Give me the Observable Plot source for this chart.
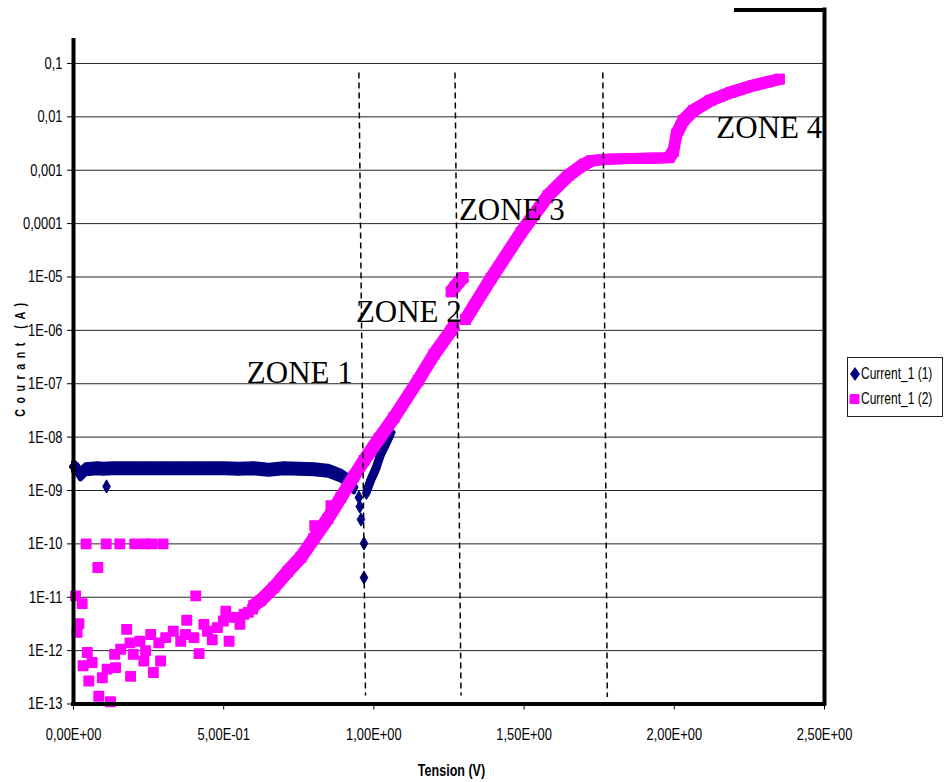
<!DOCTYPE html>
<html>
<head>
<meta charset="utf-8">
<script src="https://cdn.jsdelivr.net/npm/d3@7"></script>
<script src="https://cdn.jsdelivr.net/npm/@observablehq/plot@0.6"></script>
<style>
  html, body { margin: 0; padding: 0; background: #fff; }
  #wrap { position: relative; width: 944px; height: 782px; overflow: hidden; }
  #wrap svg { display: block; }
  #legend { position: absolute; left: 847px; top: 357px; width: 96px; height: 60px;
    border: 1px solid #222; background: #fff; box-sizing: border-box;
    font-family: "Liberation Sans", Arial, sans-serif; font-size: 16px; color: #000; }
  #legend .row { position: absolute; left: 0; height: 18px; display: flex; align-items: center; white-space: nowrap; }
  #legend .row span { display: inline-block; transform: scaleX(0.75); transform-origin: 0 50%; }
  #legend svg { display: inline-block; }
</style>
</head>
<body>
<div id="wrap">
  <div id="chart"></div>
  <div id="legend"></div>
</div>
<script>
// ---- Axis ticks ----
const xTickValues = [0, 0.5, 1.0, 1.5, 2.0, 2.5];
const xTickLabels = ["0,00E+00", "5,00E-01", "1,00E+00", "1,50E+00", "2,00E+00", "2,50E+00"];
const yTickValues = [1e-13, 1e-12, 1e-11, 1e-10, 1e-9, 1e-8, 1e-7, 1e-6, 1e-5, 1e-4, 1e-3, 1e-2, 1e-1];
const yTickLabels = ["1E-13", "1E-12", "1E-11", "1E-10", "1E-09", "1E-08", "1E-07", "1E-06", "1E-05", "0,0001", "0,001", "0,01", "0,1"];
const gridValues = [1e-12, 1e-11, 1e-10, 1e-9, 1e-8, 1e-7, 1e-6, 1e-5, 1e-4, 1e-3, 1e-2, 1e-1];

// ---- Series names ----
const seriesNames = ["Current_1 (1)", "Current_1 (2)"];
const seriesColors = ["#000080", "#FF00FF"];

// ---- Current_1 (1) (navy diamonds) ----
const blueBandV = [0, 0.012, 0.023, 0.04, 0.06, 0.08, 0.1, 0.13, 0.16, 0.2, 0.25, 0.3, 0.35, 0.4, 0.45, 0.5, 0.55, 0.6, 0.65, 0.7, 0.75, 0.8, 0.847, 0.89, 0.913, 0.933];
const blueBandI = [2.8e-9, 2.5e-9, 2.0e-9, 2.5e-9, 2.55e-9, 2.6e-9, 2.55e-9, 2.6e-9, 2.6e-9, 2.6e-9, 2.6e-9, 2.6e-9, 2.6e-9, 2.6e-9, 2.6e-9, 2.6e-9, 2.55e-9, 2.6e-9, 2.45e-9, 2.6e-9, 2.55e-9, 2.5e-9, 2.35e-9, 1.9e-9, 1.55e-9, 1.15e-9];
const blueRiseV = [0.977, 0.99, 1.007, 1.023, 1.04, 1.057];
const blueRiseI = [1.0e-9, 1.6e-9, 2.6e-9, 4.9e-9, 7.6e-9, 1.22e-8];
const blueScatterV = [0.11, 0.95, 0.953, 0.957, 0.967, 0.967, 0.975];
const blueScatterI = [1.19e-9, 7.4e-10, 5.0e-10, 2.86e-10, 1.02e-10, 2.34e-11, 9.0e-10];

// ---- Current_1 (2) (magenta squares) ----
const pinkScatterV = [0.042, 0.109, 0.154, 0.204, 0.238, 0.262, 0.298, 0.081, 0.007, 0.029, 0.018, 0.012, 0.046, 0.032, 0.062, 0.051, 0.084, 0.123, 0.096, 0.112, 0.14, 0.137, 0.157, 0.177, 0.19, 0.188, 0.199, 0.221, 0.234, 0.24, 0.257, 0.266, 0.284, 0.29, 0.307, 0.332, 0.357, 0.377, 0.373, 0.401, 0.407, 0.418, 0.434, 0.446, 0.462, 0.479, 0.499, 0.507, 0.518, 0.534, 0.554, 0.568, 0.582, 0.596, 0.803, 0.857];
const pinkScatterI = [1e-10, 1e-10, 1e-10, 1e-10, 1e-10, 1e-10, 1e-10, 3.6e-11, 1.06e-11, 7.6e-12, 3.2e-12, 2.2e-12, 9.2e-13, 5.2e-13, 6e-13, 2.7e-13, 1.4e-13, 1.1e-13, 3.1e-13, 4.5e-13, 4.8e-13, 8.5e-13, 1.06e-12, 2.5e-12, 3.3e-13, 1.4e-12, 8.5e-13, 1.5e-12, 6.4e-13, 1e-12, 2e-12, 3.9e-13, 1.4e-12, 6.4e-13, 1.75e-12, 2.3e-12, 1.5e-12, 3.7e-12, 2e-12, 1.75e-12, 1.06e-11, 8.8e-13, 3.1e-12, 2.3e-12, 1.6e-12, 2.7e-12, 3.6e-12, 5.5e-12, 1.5e-12, 4.2e-12, 3.1e-12, 4.8e-12, 5.2e-12, 6e-12, 2.2e-10, 5.2e-10];
const pinkBand1V = [0.6, 0.623, 0.667, 0.713, 0.757, 0.8, 0.847, 0.89, 0.933, 0.967, 1.017, 1.067, 1.147, 1.2, 1.257, 1.267];
const pinkBand1I = [7e-12, 8.7e-12, 1.52e-11, 3.03e-11, 5.6e-11, 1.26e-10, 2.99e-10, 7.4e-10, 1.83e-9, 3.65e-9, 9.4e-9, 2.33e-8, 1.15e-7, 3.53e-7, 9.95e-7, 1.23e-6];
const pinkBand2V = [1.257, 1.27, 1.283, 1.297];
const pinkBand2I = [5.3e-6, 6.6e-6, 8.1e-6, 9.8e-6];
const pinkBand3V = [1.305, 1.39, 1.49, 1.58, 1.647, 1.7, 1.723, 1.773, 1.85, 1.92, 1.983, 1.997, 2.007, 2.03, 2.063, 2.12, 2.187, 2.263, 2.35];
const pinkBand3I = [1.6e-6, 9.4e-6, 6.8e-5, 3.37e-4, 7.98e-4, 1.3e-3, 1.5e-3, 1.6e-3, 1.65e-3, 1.68e-3, 1.72e-3, 2.24e-3, 4.68e-3, 8.55e-3, 1.31e-2, 2.03e-2, 2.86e-2, 3.87e-2, 5.1e-2];

// ---- Annotations ----
const zoneNames = ["ZONE 1", "ZONE 2", "ZONE 3", "ZONE 4"];
const zoneV = [0.577, 0.94, 1.283, 2.14];
const zoneI = [1.05e-7, 1.41e-6, 1.15e-4, 3.94e-3];
const dashV1 = [0.95, 1.27, 1.762];
const dashV2 = [0.972, 1.29, 1.777];
const dashTopI = [0.0678, 0.0678, 0.0678];
const dashBottomI = [1.44e-13, 1.44e-13, 1.35e-13];

// ---- build tables ----
const toRows = (V, I, seg) => V.map((v, i) => ({v, i: I[i], seg}));
const blueLines = toRows(blueBandV, blueBandI, "a").concat(toRows(blueRiseV, blueRiseI, "b"));
const blueDots = blueLines.concat(toRows(blueScatterV, blueScatterI, "s"));
const pinkLines = toRows(pinkBand1V, pinkBand1I, "1")
  .concat(toRows(pinkBand2V, pinkBand2I, "2"))
  .concat(toRows(pinkBand3V, pinkBand3I, "3"));
const pinkDots = pinkLines.concat(toRows(pinkScatterV, pinkScatterI, "s"));
const zones = zoneNames.map((t, k) => ({t, v: zoneV[k], i: zoneI[k]}));
const dashes = dashV1.map((v, k) => ({x1: v, x2: dashV2[k], y1: dashTopI[k], y2: dashBottomI[k]}));

const sans = '"Liberation Sans", Arial, sans-serif';
const yLabelOf = d => {
  const k = yTickValues.findIndex(t => Math.abs(Math.log10(t) - Math.log10(d)) < 1e-6);
  return k >= 0 ? yTickLabels[k] : "";
};
const xLabelOf = d => {
  const k = xTickValues.findIndex(t => Math.abs(t - d) < 1e-9);
  return k >= 0 ? xTickLabels[k] : "";
};

// band of square/diamond markers approximated by translated round strokes
const bandMarks = (data, color, offsets, w) => offsets.map(([dx, dy]) =>
  Plot.line(data, {x: "v", y: "i", z: "seg", stroke: color, strokeWidth: w, dx, dy,
    strokeLinecap: "round", strokeLinejoin: "round", curve: "linear"}));

const sqOff = [[0, 0], [-3, -3], [3, -3], [-3, 3], [3, 3]];
const diaOff = [[0, 0], [0, -4.5], [0, 4.5], [-2, 0], [2, 0]];

const chart = Plot.plot({
  width: 944,
  height: 782,
  marginLeft: 73,
  marginRight: 120,
  marginTop: 9.6,
  marginBottom: 78.5,
  x: {domain: [0, 2.5]},
  y: {type: "log", domain: [1e-13, 1]},
  style: {fontFamily: sans, fontSize: "17px", color: "#000", background: "#fff"},
  marks: [
    Plot.ruleY(gridValues, {stroke: "#000", strokeWidth: 1, strokeOpacity: 0.85}),
    // Current_1 (1)
    ...bandMarks(blueLines, seriesColors[0], diaOff, 5),
    Plot.dot(blueDots, {x: "v", y: "i", symbol: "diamond", r: 4, fill: seriesColors[0], stroke: seriesColors[0], strokeWidth: 1}),
    // Current_1 (2)
    ...bandMarks(pinkLines, seriesColors[1], sqOff, 5),
    Plot.dot(pinkDots, {x: "v", y: "i", symbol: "square", r: 5.3, fill: seriesColors[1], stroke: seriesColors[1], strokeWidth: 1.5, strokeLinejoin: "round"}),
    // dashed zone separators
    Plot.link(dashes, {x1: "x1", y1: "y1", x2: "x2", y2: "y2", stroke: "#000", strokeWidth: 1.5, strokeDasharray: "6,4"}),
    // zone labels
    Plot.text(zones, {x: "v", y: "i", text: "t", textAnchor: "start", lineAnchor: "bottom",
      fontFamily: '"Liberation Serif", "Times New Roman", serif', fontSize: 31, fill: "#000"}),
    // frame
    Plot.ruleX([0], {y1: 0.27, y2: 1e-13, stroke: "#000", strokeWidth: 4, strokeLinecap: "square"}),
    Plot.ruleY([1e-13], {x1: 0, x2: 2.5, stroke: "#000", strokeWidth: 4, strokeLinecap: "square"}),
    Plot.ruleX([2.5], {y1: 1, y2: 1e-13, stroke: "#000", strokeWidth: 4, strokeLinecap: "square"}),
    Plot.ruleY([1], {x1: 2.207, x2: 2.5, stroke: "#000", strokeWidth: 4, strokeLinecap: "square"}),
    // axes
    Plot.axisX({ticks: xTickValues, tickFormat: xLabelOf, tickSize: 6, tickPadding: 18, label: null, fontSize: 17}),
    Plot.axisY({ticks: yTickValues, tickFormat: yLabelOf, tickSize: 6, tickPadding: 5, label: null, fontSize: 17}),
    // axis titles
    Plot.text(["Tension (V)"], {frameAnchor: "bottom", text: d => d, dx: 2.5, dy: 66.5, lineAnchor: "middle", textAnchor: "middle",
      fontWeight: "bold", fontSize: 16.5, fill: "#000"}),
    Plot.text(["Courant (A)"], {frameAnchor: "left", text: d => d, dx: -53, rotate: -90, lineAnchor: "middle", textAnchor: "middle",
      fontWeight: "bold", fontSize: 14, fill: "#000"})
  ]
});
document.getElementById("chart").appendChild(chart);

// condense the Arial-like labels (the original uses a narrow face)
d3.select(chart).selectAll("text").each(function () {
  const t = this.textContent;
  if (t.startsWith("ZONE")) return;
  const tr = this.getAttribute("transform") || "";
  if (t === "Courant (A)") {
    this.style.letterSpacing = "7.3px";
  }
  this.setAttribute("transform", tr + " scale(0.76,1)");
});

// ---- legend ----
const legend = document.getElementById("legend");
const rowsTop = [7, 32];
seriesNames.forEach((name, k) => {
  const row = document.createElement("div");
  row.className = "row";
  row.style.top = rowsTop[k] + "px";
  const sym = k === 0
    ? `<svg width="13" height="16"><path d="M7,1 L12,8 L7,15 L2,8 Z" fill="${seriesColors[0]}"/></svg>`
    : `<svg width="13" height="16"><rect x="1.5" y="3" width="10" height="10" rx="1.5" fill="${seriesColors[1]}"/></svg>`;
  row.innerHTML = sym + `<span>${name}</span>`;
  legend.appendChild(row);
});
</script>
</body>
</html>
